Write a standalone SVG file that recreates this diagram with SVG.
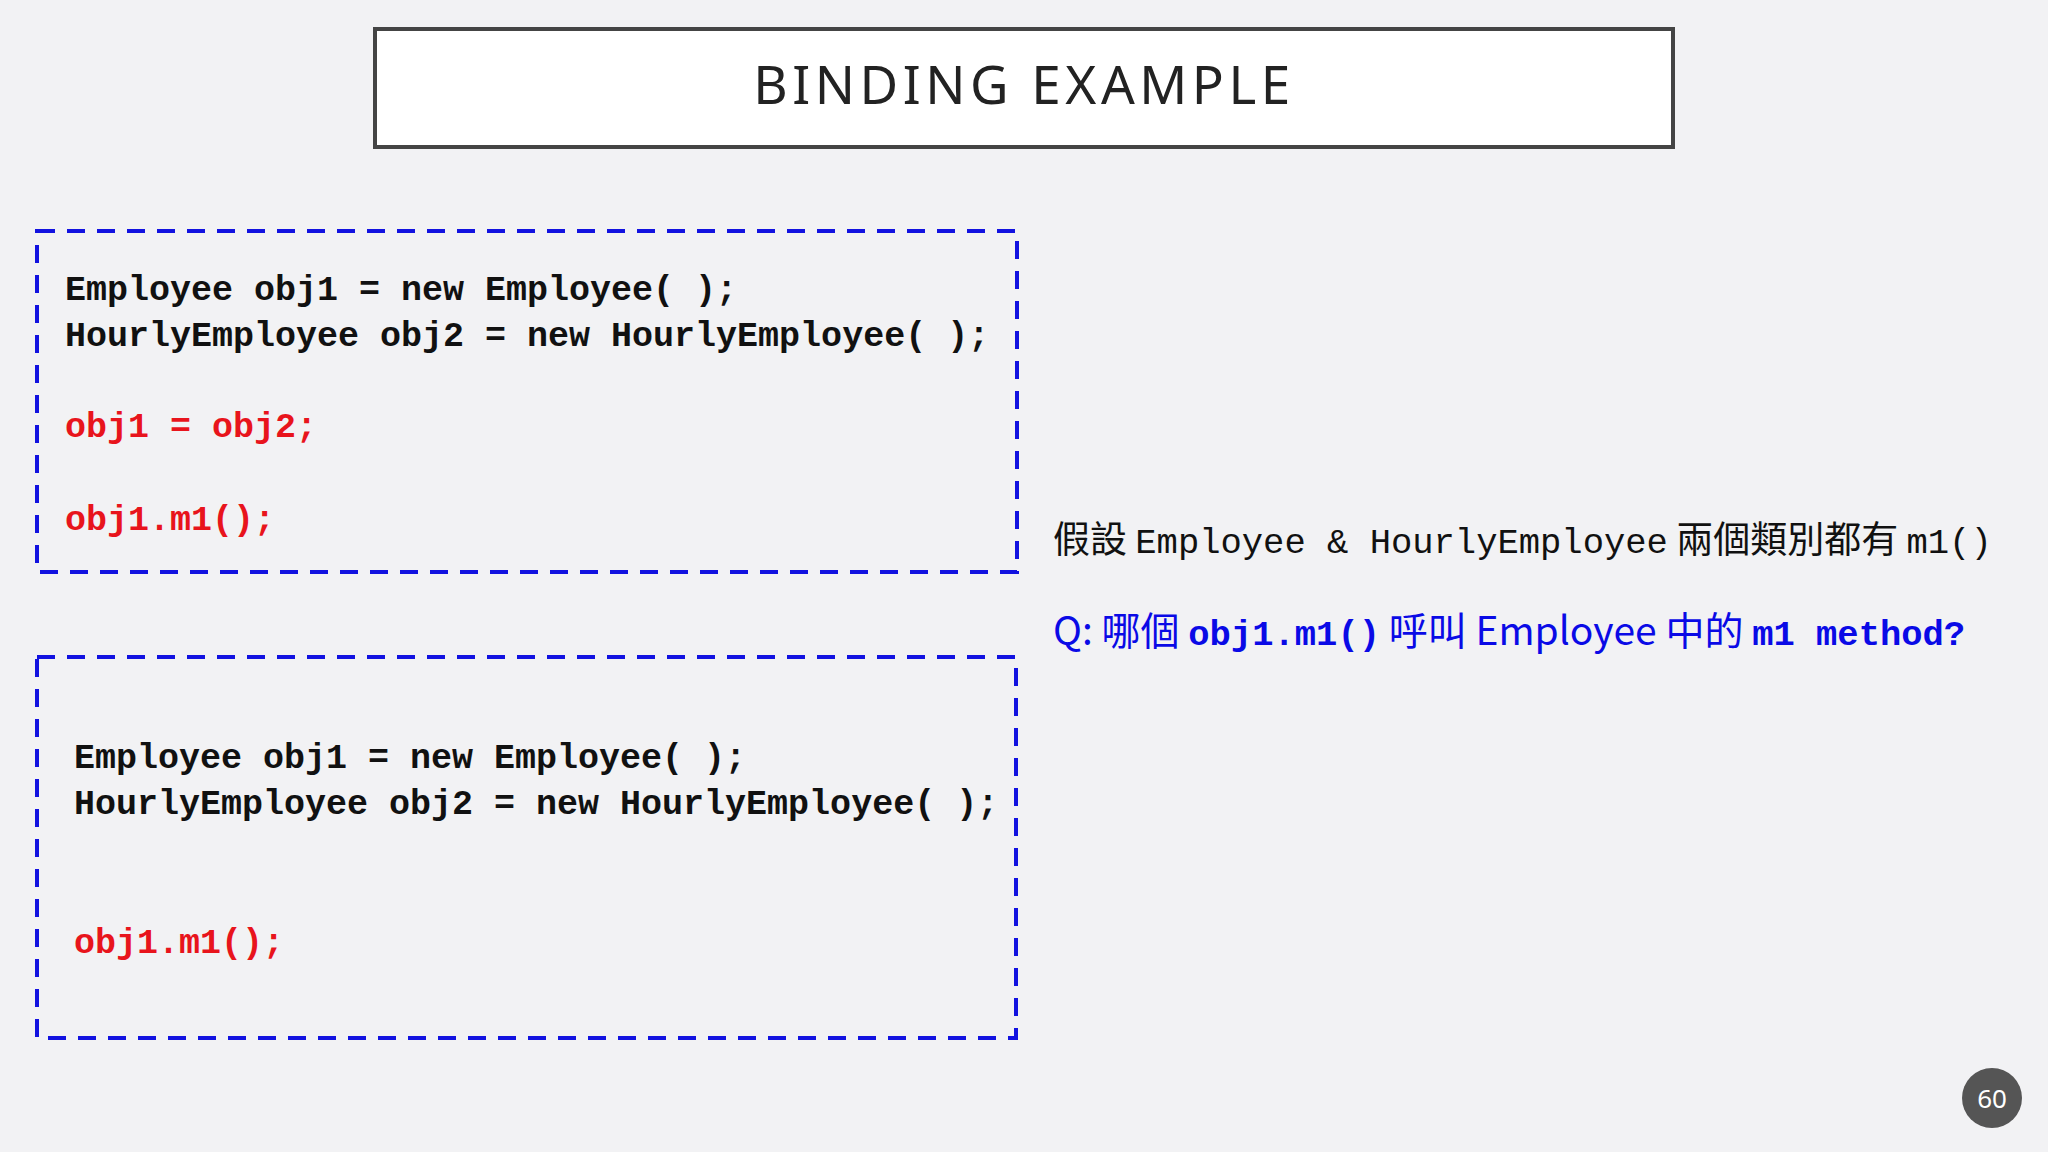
<svg xmlns="http://www.w3.org/2000/svg" width="2048" height="1152" viewBox="0 0 2048 1152">
<style>
.code{font-family:"Liberation Mono",monospace;font-weight:bold;font-size:35px}
.blk{fill:#111}.red{fill:#e8141c}
.box{fill:none;stroke:#1212e0;stroke-width:4;stroke-dasharray:18 12}
.cjk{font-family:"Noto Sans CJK TC","Noto Sans",sans-serif}
.mono{font-family:"Liberation Mono",monospace}
</style>
<rect width="2048" height="1152" fill="#f2f2f4"/>
<g id="title">
<rect x="375" y="29" width="1298" height="118" fill="#fff" stroke="#444" stroke-width="4"/>
<text x="1024" y="104" text-anchor="middle" font-family="Noto Sans,sans-serif" font-size="53" letter-spacing="4.5" fill="#222">BINDING EXAMPLE</text>
</g>
<g id="box1">
<rect class="box" x="37" y="231" width="980" height="341"/>
<text class="code blk" x="65" y="300">Employee obj1 = new Employee( );</text>
<text class="code blk" x="65" y="346">HourlyEmployee obj2 = new HourlyEmployee( );</text>
<text class="code red" x="65" y="437">obj1 = obj2;</text>
<text class="code red" x="65" y="530">obj1.m1();</text>
</g>
<g id="box2">
<rect class="box" x="37" y="657" width="979" height="381"/>
<text class="code blk" x="74" y="768">Employee obj1 = new Employee( );</text>
<text class="code blk" x="74" y="814">HourlyEmployee obj2 = new HourlyEmployee( );</text>
<text class="code red" x="74" y="953">obj1.m1();</text>
</g>
<g id="notes">
<text x="1053" y="553" font-size="37" fill="#111" class="cjk">假設 <tspan class="mono" font-size="35.5">Employee &amp; HourlyEmployee</tspan> 兩個類別都有 <tspan class="mono" font-size="35.5">m1()</tspan></text>
<text x="1053" y="645" font-size="39" fill="#0a0ae6" class="cjk">Q: 哪個 <tspan class="mono" font-weight="bold" font-size="35.5">obj1.m1()</tspan> 呼叫 Employee 中的 <tspan class="mono" font-weight="bold" font-size="35.5">m1 method?</tspan></text>
</g>
<g id="page">
<circle cx="1992" cy="1098" r="30" fill="#555"/>
<text x="1992" y="1108" text-anchor="middle" font-family="Noto Sans,sans-serif" font-size="26" fill="#fff">60</text>
</g>
</svg>
